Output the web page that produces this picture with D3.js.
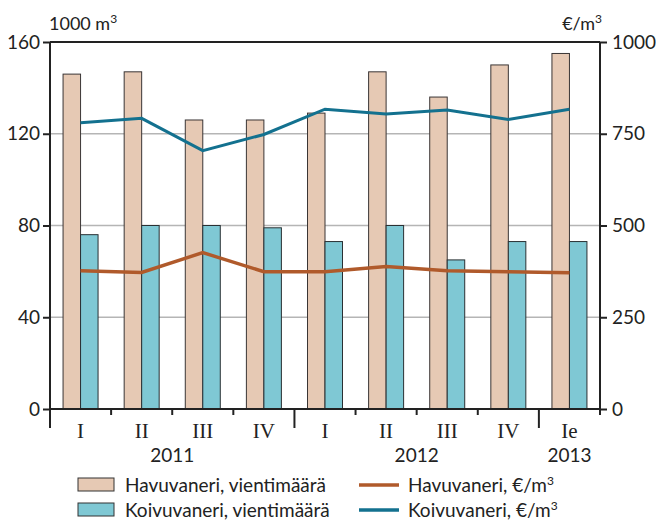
<!DOCTYPE html>
<html lang="fi">
<head>
<meta charset="UTF-8">
<title>vaneri</title>
<script src="https://cdn.jsdelivr.net/npm/d3@7/dist/d3.min.js"></script>
<style>
	body { margin: 0; background: #fff; }
	text { font-family: Lato, "Open Sans", sans-serif; fill: #222; }
	.roman { font-family: "Liberation Serif", "DejaVu Serif", serif; }
</style>
</head>
<body>
<svg id="chart" width="656" height="520"></svg>
<script>
var quarters = ["I", "II", "III", "IV", "I", "II", "III", "IV", "Ie"];
var years = [["2011", 0, 4], ["2012", 4, 8], ["2013", 8, 9]];
var havuMaara = [146, 147, 126, 126, 129, 147, 136, 150, 155];
var koivuMaara = [76, 80, 80, 79, 73, 80, 65, 73, 73];
var havuHinta = [377, 372, 426, 374, 374, 388, 377, 374, 371];
var koivuHinta = [780, 792, 704, 748, 817, 804, 815, 789, 817];
var leftTicks = [0, 40, 80, 120, 160];
var rightTicks = [0, 250, 500, 750, 1000];

var svg = d3.select("#chart"),
	mLeft = 50, mRight = 600, mTop = 42, mBottom = 409;

var x = d3.scaleBand().domain(d3.range(quarters.length)).range([mLeft, mRight]);
var yL = d3.scaleLinear().domain([0, 160]).range([mBottom, mTop]);
var yR = d3.scaleLinear().domain([0, 1000]).range([mBottom, mTop]);
var bw = 17.5;

// gridlines
svg.append("g").selectAll("line").data(leftTicks.slice(1, 4)).join("line")
	.attr("x1", mLeft).attr("x2", mRight)
	.attr("y1", d => yL(d)).attr("y2", d => yL(d))
	.attr("stroke", "#b5b5b5").attr("stroke-width", 1.5);

// bars
svg.append("g").selectAll("rect").data(havuMaara).join("rect")
	.attr("x", (d, i) => x(i) + x.bandwidth() / 2 - bw)
	.attr("y", d => yL(d)).attr("width", bw).attr("height", d => mBottom - yL(d))
	.attr("fill", "#e6c9b4").attr("stroke", "#3a3535").attr("stroke-width", 1);
svg.append("g").selectAll("rect").data(koivuMaara).join("rect")
	.attr("x", (d, i) => x(i) + x.bandwidth() / 2)
	.attr("y", d => yL(d)).attr("width", bw).attr("height", d => mBottom - yL(d))
	.attr("fill", "#7fc8d4").attr("stroke", "#2a3033").attr("stroke-width", 1);

// lines
var line = d3.line().x((d, i) => x(i) + x.bandwidth() / 2).y(d => yR(d));
svg.append("path").attr("d", line(havuHinta)).attr("fill", "none")
	.attr("stroke", "#b05a2b").attr("stroke-width", 3.5);
svg.append("path").attr("d", line(koivuHinta)).attr("fill", "none")
	.attr("stroke", "#13718f").attr("stroke-width", 3);

// frame
svg.append("line").attr("x1", mLeft).attr("x2", mRight).attr("y1", mTop).attr("y2", mTop)
	.attr("stroke", "#222").attr("stroke-width", 2);
svg.append("line").attr("x1", mLeft).attr("x2", mRight).attr("y1", mBottom).attr("y2", mBottom)
	.attr("stroke", "#222").attr("stroke-width", 2);
svg.append("line").attr("x1", mLeft).attr("x2", mLeft).attr("y1", mTop).attr("y2", 428)
	.attr("stroke", "#222").attr("stroke-width", 2);
svg.append("line").attr("x1", mRight).attr("x2", mRight).attr("y1", mTop).attr("y2", 415)
	.attr("stroke", "#222").attr("stroke-width", 2);

// left axis
var gl = svg.append("g").attr("transform", "translate(" + mLeft + ",0)")
	.call(d3.axisLeft(yL).tickValues(leftTicks).tickSize(7).tickPadding(3));
gl.select(".domain").remove();
gl.selectAll(".tick line").attr("stroke", "#222").attr("stroke-width", 2);
gl.selectAll(".tick text").attr("font-size", 19).attr("fill", "#222")
	.attr("font-family", "Lato, sans-serif");

// right axis
var gr = svg.append("g").attr("transform", "translate(" + mRight + ",0)")
	.call(d3.axisRight(yR).tickValues(rightTicks).tickFormat(d3.format("d"))
		.tickSize(7).tickPadding(5));
gr.select(".domain").remove();
gr.selectAll(".tick line").attr("stroke", "#222").attr("stroke-width", 2);
gr.selectAll(".tick text").attr("font-size", 19).attr("fill", "#222")
	.attr("font-family", "Lato, sans-serif");

// x ticks
var sep = d3.range(1, quarters.length);
svg.append("g").selectAll("line").data(sep).join("line")
	.attr("x1", d => x(d)).attr("x2", d => x(d))
	.attr("y1", mBottom)
	.attr("y2", d => (d === 4 || d === 8) ? 428 : 415)
	.attr("stroke", "#222").attr("stroke-width", 2);

svg.append("g").selectAll("text").data(quarters).join("text")
	.attr("class", "roman")
	.attr("x", (d, i) => x(i) + x.bandwidth() / 2).attr("y", 438)
	.attr("text-anchor", "middle").attr("font-size", 21).text(d => d);

svg.append("g").selectAll("text").data(years).join("text")
	.attr("x", d => (x(d[1]) + x(d[2] - 1) + x.bandwidth()) / 2).attr("y", 462)
	.attr("text-anchor", "middle").attr("font-size", 19).text(d => d[0]);

// axis titles
svg.append("text").attr("x", 49).attr("y", 30).attr("font-size", 18)
	.html("1000 m<tspan dy='-7' font-size='12'>3</tspan>");
svg.append("text").attr("x", 602).attr("y", 30).attr("font-size", 18).attr("text-anchor", "end")
	.html("€/m<tspan dy='-7' font-size='12'>3</tspan>");

// legend
var legBars = [["Havuvaneri, vientimäärä", "#e6c9b4"], ["Koivuvaneri, vientimäärä", "#7fc8d4"]];
var legLines = [["Havuvaneri, €/m", "#b05a2b"], ["Koivuvaneri, €/m", "#13718f"]];
legBars.forEach(function (d, i) {
	var y0 = 478 + i * 25;
	svg.append("rect").attr("x", 78).attr("y", y0).attr("width", 36).attr("height", 13)
		.attr("fill", d[1]).attr("stroke", "#333").attr("stroke-width", 1);
	svg.append("text").attr("x", 125).attr("y", y0 + 14).attr("font-size", 19).text(d[0]);
});
legLines.forEach(function (d, i) {
	var y0 = 485 + i * 25;
	svg.append("line").attr("x1", 359).attr("x2", 399).attr("y1", y0).attr("y2", y0)
		.attr("stroke", d[1]).attr("stroke-width", 3.5);
	svg.append("text").attr("x", 408).attr("y", y0 + 7).attr("font-size", 19)
		.html(d[0] + "<tspan dy='-7' font-size='12'>3</tspan>");
});
</script>
</body>
</html>
